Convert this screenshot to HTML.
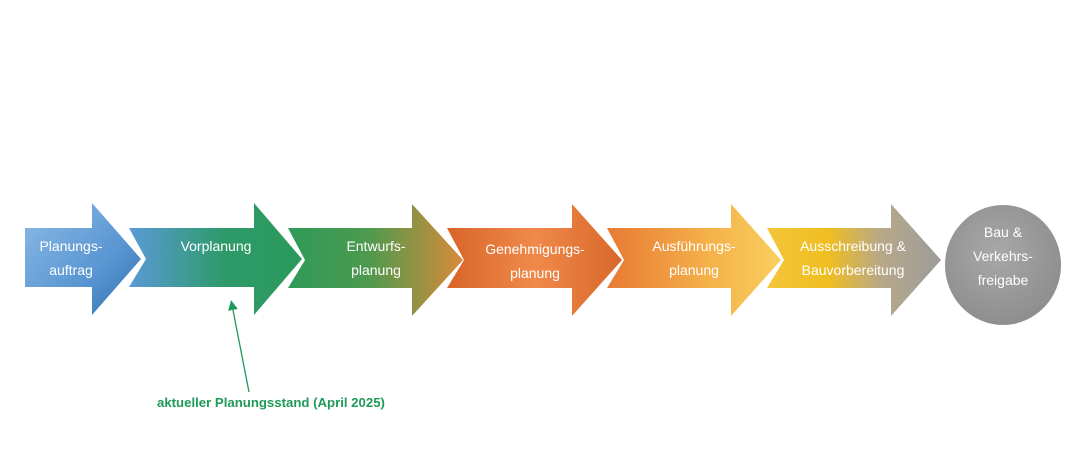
<!DOCTYPE html>
<html><head><meta charset="utf-8"><style>
html,body{margin:0;padding:0;background:#fff;width:1073px;height:469px;overflow:hidden}
svg{display:block}
text{font-family:"Liberation Sans",sans-serif;fill:#fff;font-size:14px}
</style></head><body>
<svg width="1073" height="469" viewBox="0 0 1073 469">
<defs>
<linearGradient id="g1" x1="0" y1="0" x2="1" y2="1"><stop offset="0" stop-color="#8dbbe6"/><stop offset="0.6" stop-color="#5a96d2"/><stop offset="1" stop-color="#2f6fb0"/></linearGradient>
<linearGradient id="g2" x1="0" y1="0" x2="1" y2="0"><stop offset="0" stop-color="#5a9ad6"/><stop offset="0.55" stop-color="#2e9a6a"/><stop offset="1" stop-color="#2a9a5a"/></linearGradient>
<linearGradient id="g3" x1="0" y1="0" x2="1" y2="0"><stop offset="0" stop-color="#2f9a5a"/><stop offset="0.45" stop-color="#4c9a4e"/><stop offset="1" stop-color="#d98a3a"/></linearGradient>
<linearGradient id="g4" x1="0" y1="0" x2="1" y2="0"><stop offset="0" stop-color="#d9642a"/><stop offset="0.5" stop-color="#ef8a4a"/><stop offset="1" stop-color="#d9662a"/></linearGradient>
<linearGradient id="g5" x1="0" y1="0" x2="1" y2="0"><stop offset="0" stop-color="#e87a34"/><stop offset="0.6" stop-color="#f5b24a"/><stop offset="1" stop-color="#f8cf60"/></linearGradient>
<linearGradient id="g6" x1="0" y1="0" x2="1" y2="0"><stop offset="0" stop-color="#f2c63a"/><stop offset="0.35" stop-color="#f0be20"/><stop offset="0.65" stop-color="#b8a888"/><stop offset="1" stop-color="#9c9c9c"/></linearGradient>
<radialGradient id="gc" cx="0.45" cy="0.4" r="0.65"><stop offset="0" stop-color="#a8a8a8"/><stop offset="1" stop-color="#8c8c8c"/></radialGradient>
<marker id="ah" markerWidth="10" markerHeight="10" refX="5" refY="5" orient="auto" markerUnits="userSpaceOnUse"><path d="M0,0 L10,5 L0,10 z" fill="#1f9a5a"/></marker>
</defs>
<polygon points="25,228 92,228 92,203 141,259 92,315 92,287 25,287" fill="url(#g1)"/>
<polygon points="129,228 254,228 254,203 302,259 254,315 254,287 129,287 146,259" fill="url(#g2)"/>
<polygon points="288,228 412,228 412,204 463,260 412,316 412,288 288,288 305,260" fill="url(#g3)"/>
<polygon points="447,228 572,228 572,204 622,260 572,316 572,288 447,288 464,260" fill="url(#g4)"/>
<polygon points="607,228 731,228 731,204 781,260 731,316 731,288 607,288 624,260" fill="url(#g5)"/>
<polygon points="767,228 891,228 891,204 941,260 891,316 891,288 767,288 784,260" fill="url(#g6)"/>
<ellipse cx="1003" cy="265" rx="58" ry="60" fill="url(#gc)"/>
<text x="71" y="251" text-anchor="middle">Planungs-</text>
<text x="71" y="275" text-anchor="middle">auftrag</text>
<text x="216" y="251" text-anchor="middle">Vorplanung</text>
<text x="376" y="251" text-anchor="middle">Entwurfs-</text>
<text x="376" y="275" text-anchor="middle">planung</text>
<text x="535" y="254" text-anchor="middle">Genehmigungs-</text>
<text x="535" y="278" text-anchor="middle">planung</text>
<text x="694" y="251" text-anchor="middle">Ausführungs-</text>
<text x="694" y="275" text-anchor="middle">planung</text>
<text x="853" y="251" text-anchor="middle">Ausschreibung &amp;</text>
<text x="853" y="275" text-anchor="middle">Bauvorbereitung</text>
<text x="1003" y="237" text-anchor="middle">Bau &amp;</text>
<text x="1003" y="261" text-anchor="middle">Verkehrs-</text>
<text x="1003" y="285" text-anchor="middle">freigabe</text>
<line x1="249" y1="392" x2="232" y2="305" stroke="#1f9a5a" stroke-width="1.3" marker-end="url(#ah)"/>
<text x="157" y="407" style="fill:#1f9a5a;font-weight:bold;font-size:13.2px">aktueller Planungsstand (April 2025)</text>
</svg>
</body></html>
